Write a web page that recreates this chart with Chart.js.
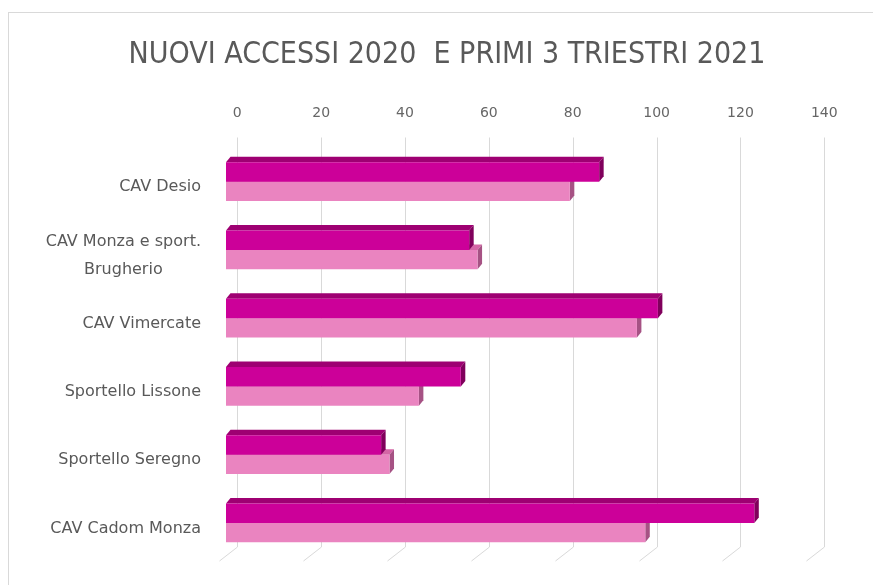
<!DOCTYPE html>
<html>
<head>
<meta charset="utf-8">
<script src="https://cdn.jsdelivr.net/npm/chart.js@4.4.1/dist/chart.umd.min.js"></script>
<style>
  html, body { margin: 0; padding: 0; background: #fff; }
  canvas { display: block; }
</style>
</head>
<body>
<canvas id="chart" width="873" height="585"></canvas>
<script>
// --- DATA ---
const categories = [
  ["CAV Desio"],
  ["CAV Monza e sport.", "Brugherio"],
  ["CAV Vimercate"],
  ["Sportello Lissone"],
  ["Sportello Seregno"],
  ["CAV Cadom Monza"]
];
const accessi2020 = [89, 58, 103, 56, 37, 126];
const accessi2021 = [82, 60, 98, 46, 39, 100];
const axisMin = 0;
const axisMax = 140;
const axisStep = 20;

// --- STYLE ---
const GREY = "#595959";
const GRID = "#d9d9d9";
const DEPTH_X = 4.5;   // 3D bar depth
const DEPTH_Y = 5.5;
const WALL_X = 11.3;   // back wall offset vs front plane
const faces = [
  { front: "rgb(204,0,153)", top: "rgb(158,0,114)", side: "rgb(128,0,92)" },
  { front: "rgb(234,132,192)", top: "rgb(212,102,166)", side: "rgb(166,82,132)" }
];

// chart border + white background
const frame = {
  id: "frame",
  beforeDraw(chart) {
    const { ctx } = chart;
    ctx.save();
    ctx.fillStyle = "#fff";
    ctx.fillRect(0, 0, chart.width, chart.height);
    ctx.strokeStyle = "#d9d9d9";
    ctx.lineWidth = 1;
    ctx.strokeRect(8.5, 12.5, chart.width + 20, chart.height + 20);
    ctx.restore();
  }
};

// back wall gridlines + 3D faces of the bars
const depth = {
  id: "depth",
  beforeDatasetsDraw(chart) {
    const { ctx, chartArea } = chart;
    const xs = chart.scales.x;
    ctx.save();
    ctx.strokeStyle = GRID;
    ctx.lineWidth = 1;
    xs.ticks.forEach((t) => {
      const px = Math.round(xs.getPixelForValue(t.value) + WALL_X) + 0.5;
      ctx.beginPath();
      ctx.moveTo(px, chartArea.top - 10);
      ctx.lineTo(px, chartArea.bottom - 10);
      ctx.lineTo(px - 18, chartArea.bottom + 4);
      ctx.stroke();
    });

    // light series first, dark one covers it
    [1, 0].forEach((di) => {
      const meta = chart.getDatasetMeta(di);
      meta.data.forEach((bar) => {
        const { x, y, base, height } = bar.getProps(["x", "y", "base", "height"], true);
        const top = y - height / 2;
        const bot = y + height / 2;
        ctx.fillStyle = faces[di].top;
        ctx.beginPath();
        ctx.moveTo(base, top);
        ctx.lineTo(base + DEPTH_X, top - DEPTH_Y);
        ctx.lineTo(x + DEPTH_X, top - DEPTH_Y);
        ctx.lineTo(x, top);
        ctx.closePath();
        ctx.fill();
        ctx.fillStyle = faces[di].side;
        ctx.beginPath();
        ctx.moveTo(x, top);
        ctx.lineTo(x + DEPTH_X, top - DEPTH_Y);
        ctx.lineTo(x + DEPTH_X, bot - DEPTH_Y);
        ctx.lineTo(x, bot);
        ctx.closePath();
        ctx.fill();
      });
    });
    ctx.restore();
  }
};

// category labels: right aligned block, lines centred inside it
const catLabels = {
  id: "catLabels",
  afterDraw(chart) {
    const { ctx } = chart;
    const ys = chart.scales.y;
    ctx.save();
    ctx.font = "16px 'DejaVu Sans'";
    ctx.fillStyle = GREY;
    ctx.textAlign = "center";
    ctx.textBaseline = "middle";
    categories.forEach((lines, i) => {
      const cy = ys.getPixelForValue(i) + 5.5;
      const w = Math.max(...lines.map((l) => ctx.measureText(l).width));
      const cx = 201 - w / 2;
      lines.forEach((l, k) => {
        ctx.fillText(l, cx, cy + (k - (lines.length - 1) / 2) * 28);
      });
    });
    ctx.restore();
  }
};

new Chart(document.getElementById("chart"), {
  type: "bar",
  data: {
    labels: categories.map((c) => c.join(" ")),
    datasets: [
      { label: "2020", data: accessi2020, backgroundColor: faces[0].front },
      { label: "primi 3 trimestri 2021", data: accessi2021, backgroundColor: faces[1].front }
    ]
  },
  options: {
    indexAxis: "y",
    responsive: false,
    animation: false,
    devicePixelRatio: 1,
    categoryPercentage: 0.566,
    barPercentage: 1,
    borderWidth: 0,
    layout: { padding: { left: 81, right: 60, top: 0, bottom: 28 } },
    plugins: {
      legend: { display: false },
      tooltip: { enabled: false },
      title: {
        display: true,
        text: "NUOVI ACCESSI 2020  E PRIMI 3 TRIESTRI 2021",
        color: GREY,
        font: { family: "'Liberation Sans Narrow', 'DejaVu Sans Condensed', sans-serif", size: 30, weight: "normal" },
        padding: { top: 37, bottom: 0 }
      }
    },
    scales: {
      x: {
        position: "top",
        min: axisMin,
        max: axisMax,
        grid: { display: false, drawTicks: false },
        border: { display: false },
        ticks: {
          stepSize: axisStep,
          color: "#666",
          font: { family: "'DejaVu Sans'", size: 14 },
          padding: 26,
          labelOffset: WALL_X
        },
        afterFit(scale) { scale.height = 74.5; }
      },
      y: {
        grid: { display: false, drawTicks: false },
        border: { display: false },
        ticks: { display: false },
        afterFit(scale) { scale.width = 145; }
      }
    }
  },
  plugins: [frame, depth, catLabels]
});
</script>
</body>
</html>
